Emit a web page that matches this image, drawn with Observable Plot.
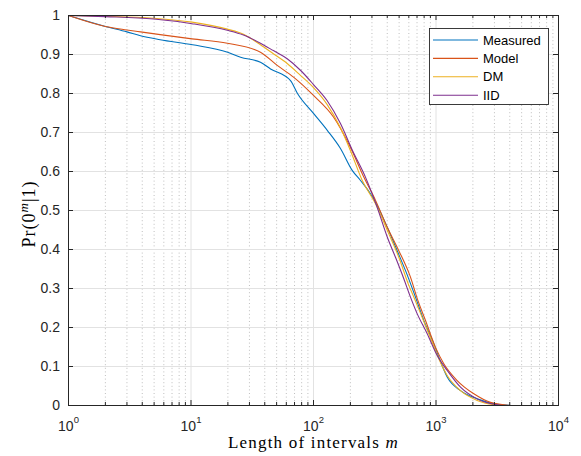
<!DOCTYPE html>
<html><head><meta charset="utf-8">
<script src="https://cdn.jsdelivr.net/npm/d3@7"></script>
<script src="https://cdn.jsdelivr.net/npm/@observablehq/plot@0.6"></script>
<style>body{margin:0;background:#fff}#chart{width:581px;height:456px}</style>
</head><body><div id="chart"></div>
<script>
// ---- data ----
const seriesNames = ["Measured", "Model", "DM", "IID"];
const seriesColors = ["#0072BD", "#D95319", "#EDB120", "#7E2F8E"];

const measuredM = [1, 2, 3, 3.87, 5.6, 10.3, 19.9, 25.4, 36.9, 44.6, 64.9, 74, 100, 130, 166, 207, 242, 292, 331, 400, 482, 582, 680, 795, 960, 1054, 1234, 1585, 2168, 3162, 4295];
const measuredP = [1, 0.972, 0.958, 0.948, 0.938, 0.925, 0.906, 0.893, 0.880, 0.863, 0.833, 0.800, 0.749, 0.705, 0.659, 0.603, 0.577, 0.543, 0.513, 0.457, 0.397, 0.335, 0.278, 0.218, 0.158, 0.124, 0.073, 0.038, 0.017, 0.003, 0];

const modelM = [1, 2, 3, 3.87, 5.6, 10.2, 19.8, 36.9, 50.6, 68.7, 100, 146, 200, 258, 321, 400, 497, 619, 703, 821, 991, 1158, 1489, 2036, 2787, 4057];
const modelP = [1, 0.972, 0.963, 0.958, 0.951, 0.940, 0.929, 0.906, 0.872, 0.842, 0.795, 0.739, 0.662, 0.585, 0.526, 0.457, 0.397, 0.329, 0.274, 0.218, 0.149, 0.107, 0.064, 0.030, 0.008, 0];

const dmM = [1, 2, 4.97, 10.2, 19.8, 26.8, 36.9, 47, 61, 78.6, 100, 129, 166, 200, 250, 321, 412, 497, 600, 659, 771, 931, 1054, 1234, 1585, 2168, 2965, 3500];
const dmP = [1, 0.998, 0.993, 0.983, 0.965, 0.952, 0.925, 0.902, 0.877, 0.846, 0.815, 0.772, 0.712, 0.654, 0.577, 0.517, 0.440, 0.380, 0.308, 0.278, 0.226, 0.162, 0.120, 0.077, 0.038, 0.013, 0.002, 0];

const iidM = [1, 2, 4.97, 10.2, 19.8, 26.8, 36.9, 47, 61, 78.6, 100, 129, 166, 208, 266, 331, 400, 467, 546, 619, 703, 848, 1023, 1234, 1585, 2168, 2965, 3500];
const iidP = [1, 0.997, 0.991, 0.979, 0.962, 0.950, 0.929, 0.910, 0.889, 0.859, 0.823, 0.782, 0.723, 0.654, 0.585, 0.508, 0.432, 0.380, 0.325, 0.278, 0.235, 0.184, 0.128, 0.090, 0.047, 0.017, 0.003, 0];

const xMajorTicks = [1, 10, 100, 1000, 10000];
const xTickExponents = ["0", "1", "2", "3", "4"];
const xMinorTicks = [2,3,4,5,6,7,8,9, 20,30,40,50,60,70,80,90, 200,300,400,500,600,700,800,900, 2000,3000,4000,5000,6000,7000,8000,9000];
const yTicks = [0, 0.1, 0.2, 0.3, 0.4, 0.5, 0.6, 0.7, 0.8, 0.9, 1];
const yTickLabels = ["0", "0.1", "0.2", "0.3", "0.4", "0.5", "0.6", "0.7", "0.8", "0.9", "1"];
const xLabel = "Length of intervals ";
const xLabelVar = "m";

// ---- build table ----
const seriesM = [measuredM, modelM, dmM, iidM];
const seriesP = [measuredP, modelP, dmP, iidP];
const rows = [];
seriesNames.forEach((s, k) => seriesM[k].forEach((m, i) => rows.push({series: s, m, p: seriesP[k][i]})));

const W = 581, H = 456, mt = 15, mb = 51, ml = 68, mr = 23;
const innerW = W - ml - mr, innerH = H - mt - mb;
const axisColor = "#262626";
const sans = "'Liberation Sans', Arial, Helvetica, sans-serif";
const serif = "'Liberation Serif', 'Times New Roman', serif";

const chart = Plot.plot({
  width: W, height: H,
  marginTop: mt, marginBottom: mb, marginLeft: ml, marginRight: mr,
  x: {type: "log", domain: [1, 10000], axis: null},
  y: {domain: [0, 1], axis: null},
  color: {domain: seriesNames, range: seriesColors},
  style: {background: "white", fontFamily: sans},
  marks: [
    Plot.ruleX(xMinorTicks, {stroke: "#b8b8b8", strokeDasharray: "1,2.6", strokeWidth: 0.9}),
    Plot.ruleX(xMajorTicks.slice(1, -1), {stroke: "#e2e2e2", strokeWidth: 1}),
    Plot.ruleY(yTicks.slice(1, -1), {stroke: "#e2e2e2", strokeWidth: 1}),
    Plot.line(rows, {x: "m", y: "p", z: "series", stroke: "series", strokeWidth: 1.1, curve: "monotone-x"}),
    Plot.frame({stroke: axisColor, strokeWidth: 1}),
    // inward ticks, all four sides
    Plot.tickX(xMajorTicks, {x: d => d, insetTop: innerH - 5, stroke: axisColor}),
    Plot.tickX(xMajorTicks, {x: d => d, insetBottom: innerH - 5, stroke: axisColor}),
    Plot.tickX(xMinorTicks, {x: d => d, insetTop: innerH - 3, stroke: axisColor}),
    Plot.tickX(xMinorTicks, {x: d => d, insetBottom: innerH - 3, stroke: axisColor}),
    Plot.tickY(yTicks, {y: d => d, insetRight: innerW - 5, stroke: axisColor}),
    Plot.tickY(yTicks, {y: d => d, insetLeft: innerW - 5, stroke: axisColor}),
    // tick labels
    Plot.text(xMajorTicks, {x: d => d, frameAnchor: "bottom", lineAnchor: "bottom", dy: 25,
      text: (d, i) => "10^" + xTickExponents[i], fontSize: 14, fill: axisColor, className: "xticklab"}),
    Plot.text(yTicks, {y: d => d, frameAnchor: "left", textAnchor: "end", dx: -8.5,
      text: (d, i) => yTickLabels[i], fontSize: 14, fill: axisColor}),
    // x axis title
    Plot.text([xLabel + xLabelVar], {frameAnchor: "bottom", lineAnchor: "bottom", dy: 42.5,
      fontSize: 17, fontFamily: serif, fill: "#000", className: "xtitle"})
  ]
});

const svg = d3.select(chart);

// superscripts on x tick labels
svg.selectAll(".xticklab text").each(function(d, i) {
  const t = d3.select(this);
  t.text("10");
  t.append("tspan").attr("dy", -7.5).attr("font-size", 9.5).text(xTickExponents[i]);
});
// italic m in x title
svg.selectAll(".xtitle text").each(function() {
  const t = d3.select(this);
  t.text(xLabel).attr("letter-spacing", 1.2);
  t.append("tspan").attr("font-style", "italic").text(xLabelVar);
});

// y title: Pr(0^m|1), centred on the plot area
const yt = svg.append("text")
  .attr("transform", `translate(35,${mt + innerH / 2 + 4}) rotate(-90)`)
  .attr("text-anchor", "middle").attr("font-family", serif).attr("font-size", 18)
  .attr("letter-spacing", 1).attr("fill", "#000");
yt.append("tspan").text("Pr(0");
yt.append("tspan").attr("dy", -7.5).attr("font-size", 13).attr("font-style", "italic").text("m");
yt.append("tspan").attr("dy", 7.5).text("|1)");

// legend
const lg = svg.append("g").attr("text-anchor", "start");
lg.append("rect").attr("x", 429.5).attr("y", 28.5).attr("width", 119).attr("height", 76)
  .attr("fill", "white").attr("stroke", axisColor).attr("stroke-width", 0.9);
seriesNames.forEach((s, i) => {
  const y = 40 + i * 18.4;
  lg.append("line").attr("x1", 433).attr("x2", 478).attr("y1", y).attr("y2", y)
    .attr("stroke", seriesColors[i]).attr("stroke-width", 1.1);
  lg.append("text").attr("x", 483).attr("y", y).attr("dy", "0.36em").attr("text-anchor", "start")
    .attr("font-size", 13).attr("font-family", sans).attr("fill", "#000").text(s);
});

document.getElementById("chart").appendChild(chart);
</script>
</body></html>
